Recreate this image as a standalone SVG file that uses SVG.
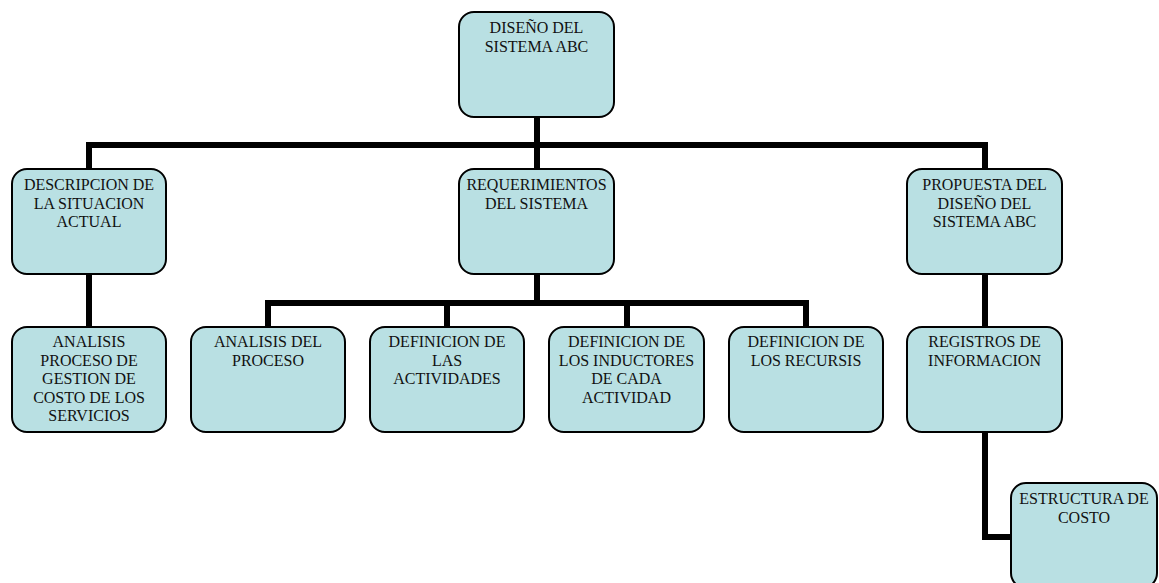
<svg xmlns="http://www.w3.org/2000/svg" width="1159" height="583" viewBox="0 0 1159 583">
  <style>
    .box { fill: #b9e0e3; stroke: #000; stroke-width: 2; }
    .lbl { font-family: "Liberation Serif", "Times New Roman", serif; font-size: 16px; fill: #111; text-anchor: middle; }
    .wire { fill: none; stroke: #000; stroke-width: 6; stroke-linejoin: miter; }
  </style>
  <rect width="1159" height="583" fill="#fff"/>

  <!-- connectors -->
  <g id="connectors">
    <path class="wire" d="M537,117 V145"/>
    <path class="wire" d="M89,169 V145 H985 V169"/>
    <path class="wire" d="M537,145 V169"/>
    <path class="wire" d="M89,274 V327"/>
    <path class="wire" d="M537,274 V303"/>
    <path class="wire" d="M268,327 V303 H806 V327"/>
    <path class="wire" d="M447,303 V327"/>
    <path class="wire" d="M627,303 V327"/>
    <path class="wire" d="M985,274 V327"/>
    <path class="wire" d="M985,432 V537 H1011"/>
  </g>

  <g id="diseno-sistema-abc">
    <rect class="box" x="459" y="12" width="155" height="105" rx="15"/>
    <text class="lbl" x="536.5" y="33">DISEÑO DEL</text>
    <text class="lbl" x="536.5" y="51.5">SISTEMA ABC</text>
  </g>

  <g id="descripcion-situacion">
    <rect class="box" x="12" y="169" width="154" height="105" rx="15"/>
    <text class="lbl" x="89" y="190">DESCRIPCION DE</text>
    <text class="lbl" x="89" y="208.5">LA SITUACION</text>
    <text class="lbl" x="89" y="227">ACTUAL</text>
  </g>

  <g id="requerimientos">
    <rect class="box" x="459" y="169" width="155" height="105" rx="15"/>
    <text class="lbl" x="536.5" y="190">REQUERIMIENTOS</text>
    <text class="lbl" x="536.5" y="208.5">DEL SISTEMA</text>
  </g>

  <g id="propuesta-diseno">
    <rect class="box" x="907" y="169" width="155" height="105" rx="15"/>
    <text class="lbl" x="984.5" y="190">PROPUESTA DEL</text>
    <text class="lbl" x="984.5" y="208.5">DISEÑO DEL</text>
    <text class="lbl" x="984.5" y="227">SISTEMA ABC</text>
  </g>

  <g id="analisis-gestion-costo">
    <rect class="box" x="12" y="327" width="154" height="105" rx="15"/>
    <text class="lbl" x="89" y="347">ANALISIS</text>
    <text class="lbl" x="89" y="365.5">PROCESO DE</text>
    <text class="lbl" x="89" y="384">GESTION DE</text>
    <text class="lbl" x="89" y="402.5">COSTO DE LOS</text>
    <text class="lbl" x="89" y="421">SERVICIOS</text>
  </g>

  <g id="analisis-proceso">
    <rect class="box" x="191" y="327" width="154" height="105" rx="15"/>
    <text class="lbl" x="268" y="347">ANALISIS DEL</text>
    <text class="lbl" x="268" y="365.5">PROCESO</text>
  </g>

  <g id="definicion-actividades">
    <rect class="box" x="370" y="327" width="154" height="105" rx="15"/>
    <text class="lbl" x="447" y="347">DEFINICION DE</text>
    <text class="lbl" x="447" y="365.5">LAS</text>
    <text class="lbl" x="447" y="384">ACTIVIDADES</text>
  </g>

  <g id="definicion-inductores">
    <rect class="box" x="549" y="327" width="155" height="105" rx="15"/>
    <text class="lbl" x="626.5" y="347">DEFINICION DE</text>
    <text class="lbl" x="626.5" y="365.5">LOS INDUCTORES</text>
    <text class="lbl" x="626.5" y="384">DE CADA</text>
    <text class="lbl" x="626.5" y="402.5">ACTIVIDAD</text>
  </g>

  <g id="definicion-recursos">
    <rect class="box" x="729" y="327" width="154" height="105" rx="15"/>
    <text class="lbl" x="806" y="347">DEFINICION DE</text>
    <text class="lbl" x="806" y="365.5">LOS RECURSIS</text>
  </g>

  <g id="registros-informacion">
    <rect class="box" x="907" y="327" width="155" height="105" rx="15"/>
    <text class="lbl" x="984.5" y="347">REGISTROS DE</text>
    <text class="lbl" x="984.5" y="365.5">INFORMACION</text>
  </g>

  <g id="estructura-costo">
    <rect class="box" x="1011" y="483" width="146" height="105" rx="15"/>
    <text class="lbl" x="1084" y="504">ESTRUCTURA DE</text>
    <text class="lbl" x="1084" y="522.5">COSTO</text>
  </g>
</svg>
